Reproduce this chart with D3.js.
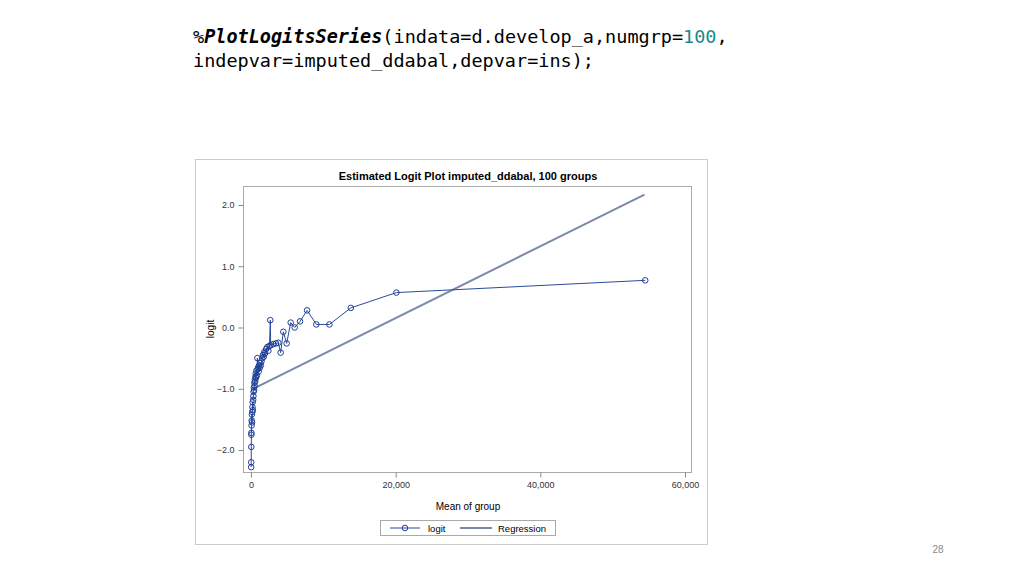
<!DOCTYPE html><html><head><meta charset="utf-8"><script src="https://cdn.jsdelivr.net/npm/d3@7"></script>
<style>body{margin:0;background:#fff}</style></head><body><svg width="1024" height="576"></svg>
<script>
const meanX=[20,30,40,50,60,80,100,120,150,180,200,230,260,300,330,360,400,430,470,500,540,580,620,660,700,760,820,880,940,1000,1060,1120,1200,1280,1360,1450,1550,1650,1750,1850,1950,2100,2250,2400,2550,2670,2720,3090,3460,3780,4100,4470,4930,5490,6040,6780,7750,9030,10840,13800,20100,54500];
const logitY=[-2.28,-2.2,-1.95,-1.75,-1.72,-1.6,-1.52,-1.42,-1.55,-1.38,-1.3,-1.22,-1.35,-1.18,-1.12,-1.05,-0.98,-1.02,-0.9,-0.95,-0.85,-0.88,-0.8,-0.75,-0.82,-0.7,-0.78,-0.5,-0.68,-0.65,-0.72,-0.62,-0.66,-0.58,-0.62,-0.55,-0.5,-0.45,-0.48,-0.4,-0.42,-0.35,-0.32,-0.38,-0.3,0.12,-0.29,-0.27,-0.26,-0.25,-0.41,-0.07,-0.26,0.08,0.0,0.1,0.28,0.05,0.05,0.32,0.57,0.77];
const regX=[280,54400], regY=[-1.0,2.17];
const xTicks=[0,20000,40000,60000], yTicks=[-2,-1,0,1,2];
const svg=d3.select("svg");
svg.append("text").attr("x",193).attr("y",43).attr("font-family","DejaVu Sans Mono").attr("font-size",18.5)
 .html('%<tspan font-style="italic" font-weight="bold">PlotLogitsSeries</tspan>(indata=d.develop_a,numgrp=<tspan fill="#1a8a8a">100</tspan>,');
svg.append("text").attr("x",193).attr("y",67).attr("font-family","DejaVu Sans Mono").attr("font-size",18.5).text("indepvar=imputed_ddabal,depvar=ins);");
svg.append("rect").attr("x",195.5).attr("y",159.5).attr("width",512).attr("height",385).attr("fill","none").attr("stroke","#ccc");
svg.append("text").attr("x",468).attr("y",180).attr("text-anchor","middle").attr("font-family","Liberation Sans").attr("font-weight","bold").attr("font-size",11).text("Estimated Logit Plot imputed_ddabal, 100 groups");
const x=d3.scaleLinear().domain([0,60000]).range([251,685]);
const y=d3.scaleLinear().domain([-2,2]).range([450,205]);
svg.append("rect").attr("x",243.5).attr("y",186.5).attr("width",448).attr("height",286).attr("fill","none").attr("stroke","#aaa");
const fa=g=>{g.selectAll("text").attr("font-family","Liberation Sans").attr("font-size",9).attr("fill","#333");g.selectAll("line").attr("stroke","#888");g.select(".domain").remove();};
svg.append("g").attr("transform","translate(0,472.5)").call(d3.axisBottom(x).tickValues(xTicks).tickSize(5).tickPadding(4)).call(fa);
svg.append("g").attr("transform","translate(243.5,0)").call(d3.axisLeft(y).tickValues(yTicks).tickSize(5).tickPadding(4)).call(fa);
svg.append("text").attr("x",468).attr("y",510).attr("text-anchor","middle").attr("font-family","Liberation Sans").attr("font-size",10).text("Mean of group");
svg.append("text").attr("transform","translate(214,329) rotate(-90)").attr("text-anchor","middle").attr("font-family","Liberation Sans").attr("font-size",10).text("logit");
svg.append("line").attr("x1",x(regX[0])).attr("y1",y(regY[0])).attr("x2",x(regX[1])).attr("y2",y(regY[1])).attr("stroke","#7a8aa8").attr("stroke-width",2);
const pts=meanX.map((v,i)=>[v,logitY[i]]);
svg.append("path").attr("d",d3.line().x(d=>x(d[0])).y(d=>y(d[1]))(pts)).attr("fill","none").attr("stroke","#2a4b9b").attr("stroke-width",1);
svg.selectAll("circle.p").data(pts).join("circle").attr("cx",d=>x(d[0])).attr("cy",d=>y(d[1])).attr("r",2.8).attr("fill","none").attr("stroke","#1d3f99").attr("stroke-width",1);
const lg=svg.append("g");
lg.append("rect").attr("x",380.5).attr("y",520.5).attr("width",175).attr("height",15).attr("fill","none").attr("stroke","#aaa");
lg.append("line").attr("x1",390).attr("x2",420).attr("y1",528).attr("y2",528).attr("stroke","#2a4b9b");
lg.append("circle").attr("cx",405).attr("cy",528).attr("r",2.8).attr("fill","none").attr("stroke","#1d3f99");
lg.append("text").attr("x",428).attr("y",531.5).attr("font-family","Liberation Sans").attr("font-size",9.5).text("logit");
lg.append("line").attr("x1",460).attr("x2",492).attr("y1",528).attr("y2",528).attr("stroke","#7a8aa8").attr("stroke-width",2);
lg.append("text").attr("x",498).attr("y",531.5).attr("font-family","Liberation Sans").attr("font-size",9.5).text("Regression");
svg.append("text").attr("x",938).attr("y",553).attr("text-anchor","middle").attr("font-family","Liberation Sans").attr("font-size",10).attr("fill","#888").text("28");
</script></body></html>
